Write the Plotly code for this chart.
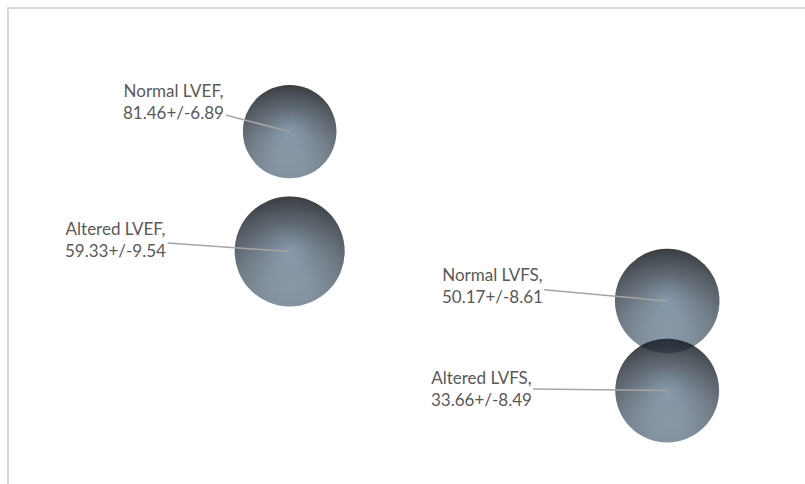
import plotly.graph_objects as go

# ---- data ----
labels = ["Normal LVEF", "Altered LVEF", "Normal LVFS", "Altered LVFS"]
x_pos = [1, 1, 2, 2]
means = [81.46, 59.33, 50.17, 33.66]
sds = [6.89, 9.54, 8.61, 8.49]

# label offsets (pixels) for the callouts
label_ax = [-116, -174, -175, -186]
label_ay = [-30, -12, -16, -2]

max_diam = 110
sizeref = 2 * max(sds) / (max_diam ** 2)

fig = go.Figure()

# base sphere: dark top -> light bottom
fig.add_trace(go.Scatter(
    x=x_pos, y=means, mode="markers",
    marker=dict(size=sds, sizemode="area", sizeref=sizeref,
                color="#090c10", line=dict(width=0),
                gradient=dict(type="vertical", color="#aec8de")),
    cliponaxis=False, hoverinfo="skip", showlegend=False))

# shading overlay: darker rim, lighter centre
fig.add_trace(go.Scatter(
    x=x_pos, y=means, mode="markers",
    marker=dict(size=sds, sizemode="area", sizeref=sizeref,
                color="rgba(12,18,26,0.5)", line=dict(width=0),
                gradient=dict(type="radial", color="rgba(105,135,165,0.35)")),
    cliponaxis=False, hoverinfo="skip", showlegend=False))

# soft highlight near the centre
fig.add_trace(go.Scatter(
    x=x_pos, y=means, mode="markers",
    marker=dict(size=sds, sizemode="area", sizeref=sizeref * 4,
                color="rgba(120,150,178,0.0)", line=dict(width=0),
                gradient=dict(type="radial", color="rgba(140,168,194,0.45)")),
    cliponaxis=False, hoverinfo="skip", showlegend=False))

for lab, xv, yv, sd, ax, ay in zip(labels, x_pos, means, sds, label_ax, label_ay):
    fig.add_annotation(
        x=xv, y=yv, text=f"{lab},<br>{yv:.2f}+/-{sd:.2f}",
        showarrow=True, arrowhead=0, arrowwidth=1.5, arrowcolor="#a6a6a6",
        ax=ax, ay=ay, font=dict(family="Lato", size=17, color="#595959"),
        align="center")

fig.update_layout(
    width=805, height=484,
    margin=dict(l=9, r=0, t=9, b=0),
    paper_bgcolor="white", plot_bgcolor="white",
    xaxis=dict(range=[0.2566, 2.365], showgrid=False, zeroline=False,
               showticklabels=False, ticks="", side="top",
               showline=True, linecolor="#d9d9d9", linewidth=2),
    yaxis=dict(range=[16.4, 104.1], showgrid=False, zeroline=False,
               showticklabels=False, ticks="",
               showline=True, linecolor="#d9d9d9", linewidth=2),
)

fig.write_html("out.html")
